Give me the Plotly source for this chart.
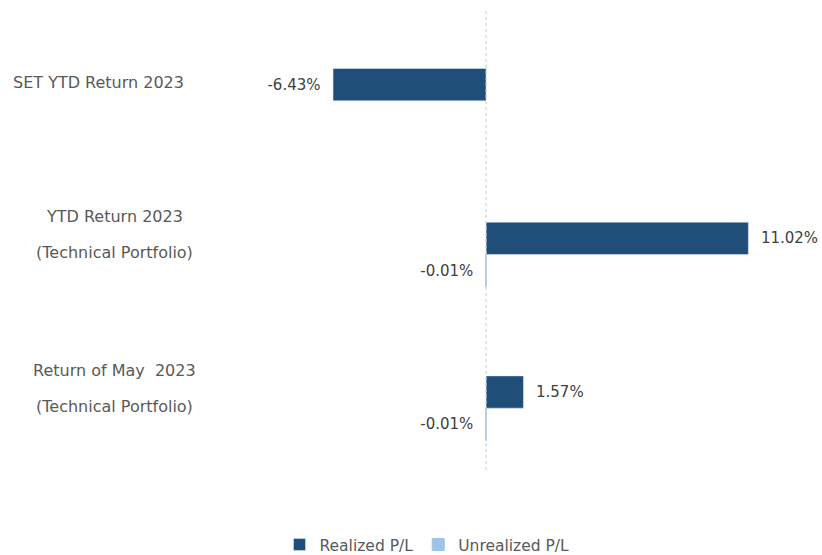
import plotly.graph_objects as go

categories = ["SET YTD Return 2023", "YTD Return 2023 (Technical Portfolio)", "Return of May 2023 (Technical Portfolio)"]
label_lines = [["SET YTD Return 2023"], ["YTD Return 2023", "(Technical Portfolio)"], ["Return of May  2023", "(Technical Portfolio)"]]
realized = [-6.43, 11.02, 1.57]
unrealized = [None, -0.01, -0.01]
series_names = ["Realized P/L", "Unrealized P/L"]
colors = ["#1F4E79", "#9DC3E6"]

FONT = "DejaVu Sans, Liberation Sans, Arial"
OFF = 0  # body margin removed via post_script
W, H = 822, 555
L, T = 200, 24
PW, PH = 620, 461
R = W - L - PW
B = H - T - PH

def px_to_paper_x(screen_x):
    return (screen_x - OFF - L) / PW

def px_to_paper_y(screen_y):
    return 1 - (screen_y - OFF - T) / PH

def bar_labels(vals):
    out = []
    for v in vals:
        if v is None:
            out.append("")
        elif v < 0:
            out.append(f"{v:.2f}%  ")
        else:
            out.append(f"  {v:.2f}%")
    return out

fig = go.Figure()
fig.add_trace(go.Bar(
    y=categories, x=realized, orientation="h", name=series_names[0],
    marker=dict(color=colors[0]),
    text=bar_labels(realized), texttemplate="%{text}", textposition="outside",
    textfont=dict(family=FONT, size=15, color="#404040"),
    cliponaxis=False,
))
fig.add_trace(go.Bar(
    y=categories, x=unrealized, orientation="h", name=series_names[1],
    marker=dict(color=colors[1], line=dict(color=colors[1], width=1)),
    text=bar_labels(unrealized), texttemplate="%{text}", textposition="outside",
    textfont=dict(family=FONT, size=15, color="#404040"),
    cliponaxis=False,
))

label_centers = [98, 114, 114]
for cat, lines, cx in zip(categories, label_lines, label_centers):
    shifts = [18] if len(lines) == 1 else [38, 2]
    for line, s in zip(lines, shifts):
        fig.add_annotation(
            x=px_to_paper_x(cx), xref="paper", y=cat, yref="y",
            text=line, showarrow=False, xanchor="center", yanchor="middle",
            yshift=s, font=dict(family=FONT, size=16, color="#595959"),
        )

fig.add_shape(type="line", x0=0, x1=0, xref="x",
              y0=px_to_paper_y(470), y1=px_to_paper_y(10), yref="paper",
              line=dict(color="#C8C8C8", width=1, dash="dot"))

fig.update_layout(
    width=W, height=H,
    margin=dict(l=L, r=R, t=T, b=B, autoexpand=False),
    paper_bgcolor="white", plot_bgcolor="white",
    barmode="group", bargap=0.58, bargroupgap=0,
    showlegend=True,
    legend=dict(orientation="h", x=px_to_paper_x(427), xanchor="center",
                y=px_to_paper_y(545), yanchor="middle", itemwidth=30,
                font=dict(family=FONT, size=15.5, color="#595959")),
    font=dict(family=FONT),
)
fig.update_xaxes(range=[-12.02, 14.03], showgrid=False, zeroline=False,
                 showticklabels=False, showline=False, ticks="")
fig.update_yaxes(autorange="reversed", showgrid=False, zeroline=False,
                 showticklabels=False, showline=False, ticks="", categoryorder="array",
                 categoryarray=categories)

fig.write_html("out.html", config={"displayModeBar": False},
               post_script="document.body.style.margin='0';document.body.style.overflow='hidden';")
